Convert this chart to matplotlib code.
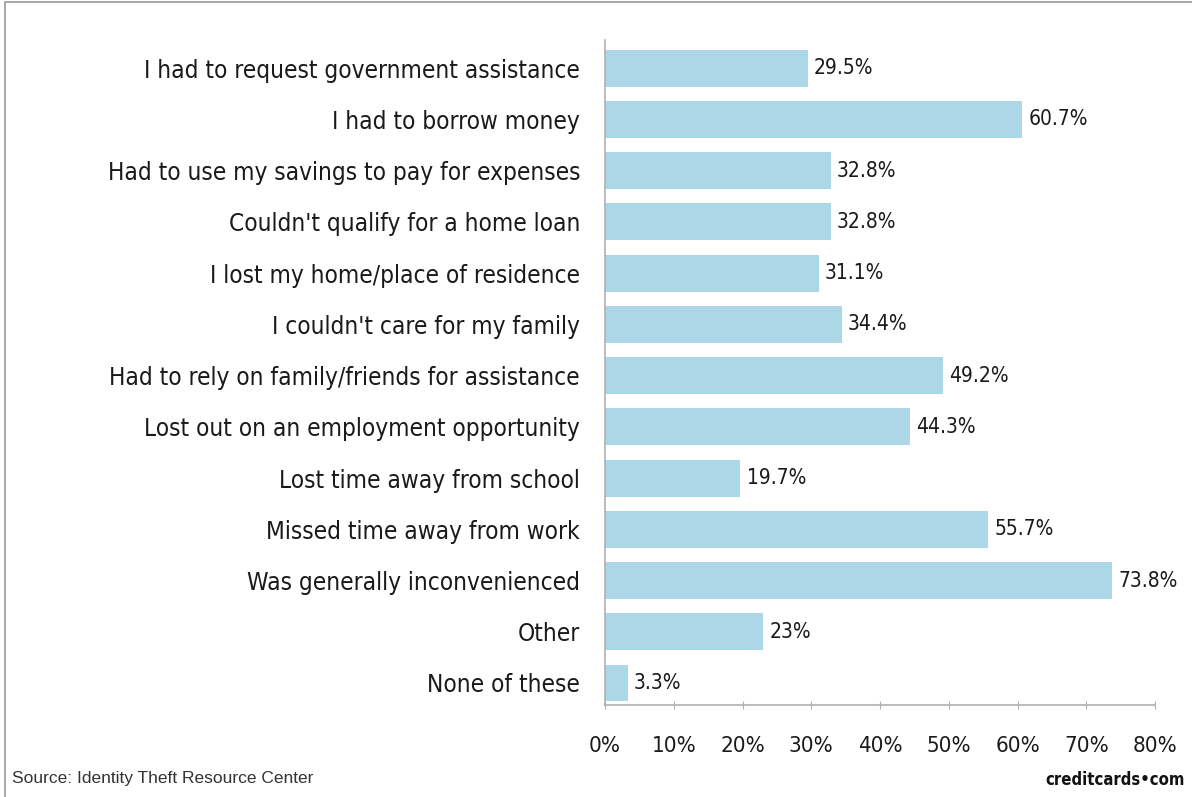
import matplotlib
matplotlib.use("Agg")
import matplotlib.pyplot as plt
from matplotlib.patches import Rectangle

# ── Data ───────────────────────────────────────────────────────────
categories = [
    "I had to request government assistance",
    "I had to borrow money",
    "Had to use my savings to pay for expenses",
    "Couldn't qualify for a home loan",
    "I lost my home/place of residence",
    "I couldn't care for my family",
    "Had to rely on family/friends for assistance",
    "Lost out on an employment opportunity",
    "Lost time away from school",
    "Missed time away from work",
    "Was generally inconvenienced",
    "Other",
    "None of these",
]
values = [29.5, 60.7, 32.8, 32.8, 31.1, 34.4, 49.2, 44.3, 19.7, 55.7, 73.8, 23, 3.3]
value_labels = ["29.5%", "60.7%", "32.8%", "32.8%", "31.1%", "34.4%", "49.2%",
                "44.3%", "19.7%", "55.7%", "73.8%", "23%", "3.3%"]
x_ticks = [0, 10, 20, 30, 40, 50, 60, 70, 80]

BAR = "#acd7e6"
TEXT = "#1a1a1a"
AXIS = "#b0b0b0"
FONT = dict(family="DejaVu Sans", stretch="condensed")

fig = plt.figure(figsize=(11.92, 7.97), dpi=100)
ax = fig.add_axes([0.5076, 0.1154, 0.4614, 0.8344])

y = list(range(len(categories)))
ax.barh(y, values, height=0.72, color=BAR, edgecolor="none")

for yi, v, lab in zip(y, values, value_labels):
    ax.text(v + 0.9, yi, lab, va="center", ha="left", fontsize=15,
            color=TEXT, **FONT)

ax.set_xlim(0, 80)
ax.set_ylim(12.43, -0.55)
ax.set_yticks(y)
ax.set_yticklabels(categories, fontsize=17.5, color=TEXT, **FONT)
ax.set_xticks(x_ticks)
ax.set_xticklabels([f"{t}%" for t in x_ticks], fontsize=16, color=TEXT, **FONT)

for s in ["top", "right"]:
    ax.spines[s].set_visible(False)
for s in ["left", "bottom"]:
    ax.spines[s].set_color(AXIS)
    ax.spines[s].set_linewidth(1.2)
ax.tick_params(axis="y", length=0, pad=18)
ax.tick_params(axis="x", length=6, color=AXIS, direction="inout", pad=19)

# source + branding
fig.text(12 / 1192, 1 - 778 / 797, "Source: Identity Theft Resource Center",
         fontsize=12.5, color="#333333", family="Liberation Sans", va="center")
fig.text(1185 / 1192, 1 - 780 / 797, "creditcards\u2022com",
         fontsize=12, color="#111111", fontweight="bold", ha="right", va="center",
         **FONT)

# thin frame around the graphic
fig.patches.append(Rectangle((0.004, -0.01), 1.2, 1.008, transform=fig.transFigure,
                             fill=False, edgecolor="#9a9a9a", linewidth=1.2))

fig.savefig("out.png", dpi=100)
